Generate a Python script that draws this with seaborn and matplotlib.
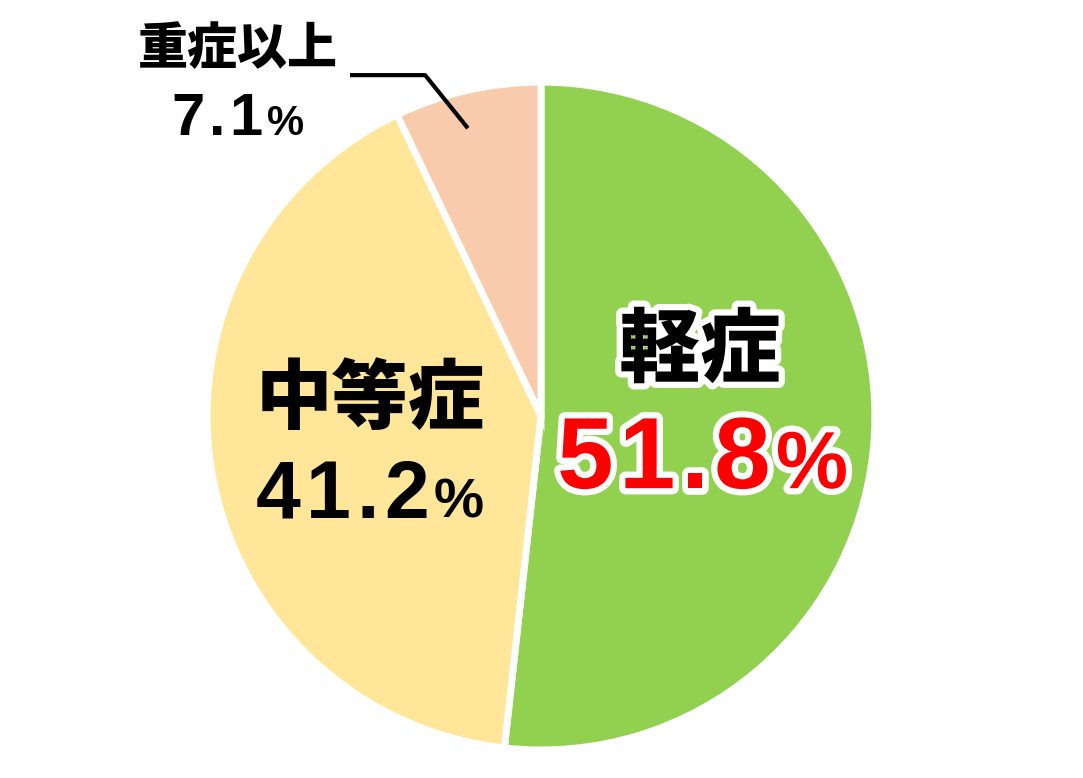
import matplotlib
matplotlib.use("Agg")
import matplotlib.pyplot as plt
import matplotlib.patheffects as pe
import seaborn as sns

# データ
labels = ["軽症", "中等症", "重症以上"]
values = [51.8, 41.2, 7.1]
pct_text = ["51.8", "41.2", "7.1"]
colors = ["#92d050", "#ffe699", "#f8cbad"]

sns.set_theme(style="white")
plt.rcParams['font.family'] = ['Noto Sans CJK JP', 'DejaVu Sans']

fig = plt.figure(figsize=(10.83, 7.78), dpi=100)
ax = fig.add_axes([0, 0, 1, 1])
ax.pie(values, colors=colors, startangle=90, counterclock=False,
       radius=1.0, center=(0, 0),
       wedgeprops=dict(edgecolor="white", linewidth=5))
ax.set_xlim(-1.62, 1.623)
ax.set_ylim(-1.084, 1.246)
ax.set_aspect("equal")
ax.axis("off")

white_edge = [pe.withStroke(linewidth=9, foreground="white")]
num_font = ['Liberation Sans', 'DejaVu Sans']


def pct_label(x, y, num, size, color, track, pct_scale, effects=None):
    # 1文字ずつ並べて字間を広げる（最後に小さめの％）
    r = fig.canvas.get_renderer()
    inv = ax.transData.inverted()
    items = []
    for ch in list(num) + ["%"]:
        fs = size * pct_scale if ch == "%" else size
        t = ax.text(0, y, ch, ha="left", va="baseline", fontsize=fs,
                    fontweight="bold", family=num_font, color=color,
                    path_effects=effects)
        b = t.get_window_extent(r)
        w = inv.transform((b.x1, 0))[0] - inv.transform((b.x0, 0))[0]
        items.append((t, w))
    total = sum(w for _, w in items) + track * (len(items) - 1)
    cx = x - total / 2
    for t, w in items:
        t.set_x(cx)
        cx += w + track


ax.text(0.476, 0.192, labels[0], ha="center", va="center", fontsize=58,
        fontweight="heavy", color="black", path_effects=white_edge)
pct_label(0.484, -0.216, pct_text[0], 73, "#ff0000", 0.016, 0.8, white_edge)

ax.text(-0.512, 0.048, labels[1], ha="center", va="center", fontsize=55,
        fontweight="heavy", color="black")
pct_label(-0.512, -0.305, pct_text[1], 58, "black", 0.016, 0.7)

ax.text(-0.907, 1.098, labels[2], ha="center", va="center", fontsize=36,
        fontweight="heavy", color="black")
pct_label(-0.909, 0.841, pct_text[2], 43, "black", 0.013, 0.7)

# 引き出し線
ax.plot([-0.572, -0.347, -0.219], [1.021, 1.021, 0.862], color="black",
        linewidth=3, solid_capstyle="butt")

fig.savefig("out.png", dpi=100)
